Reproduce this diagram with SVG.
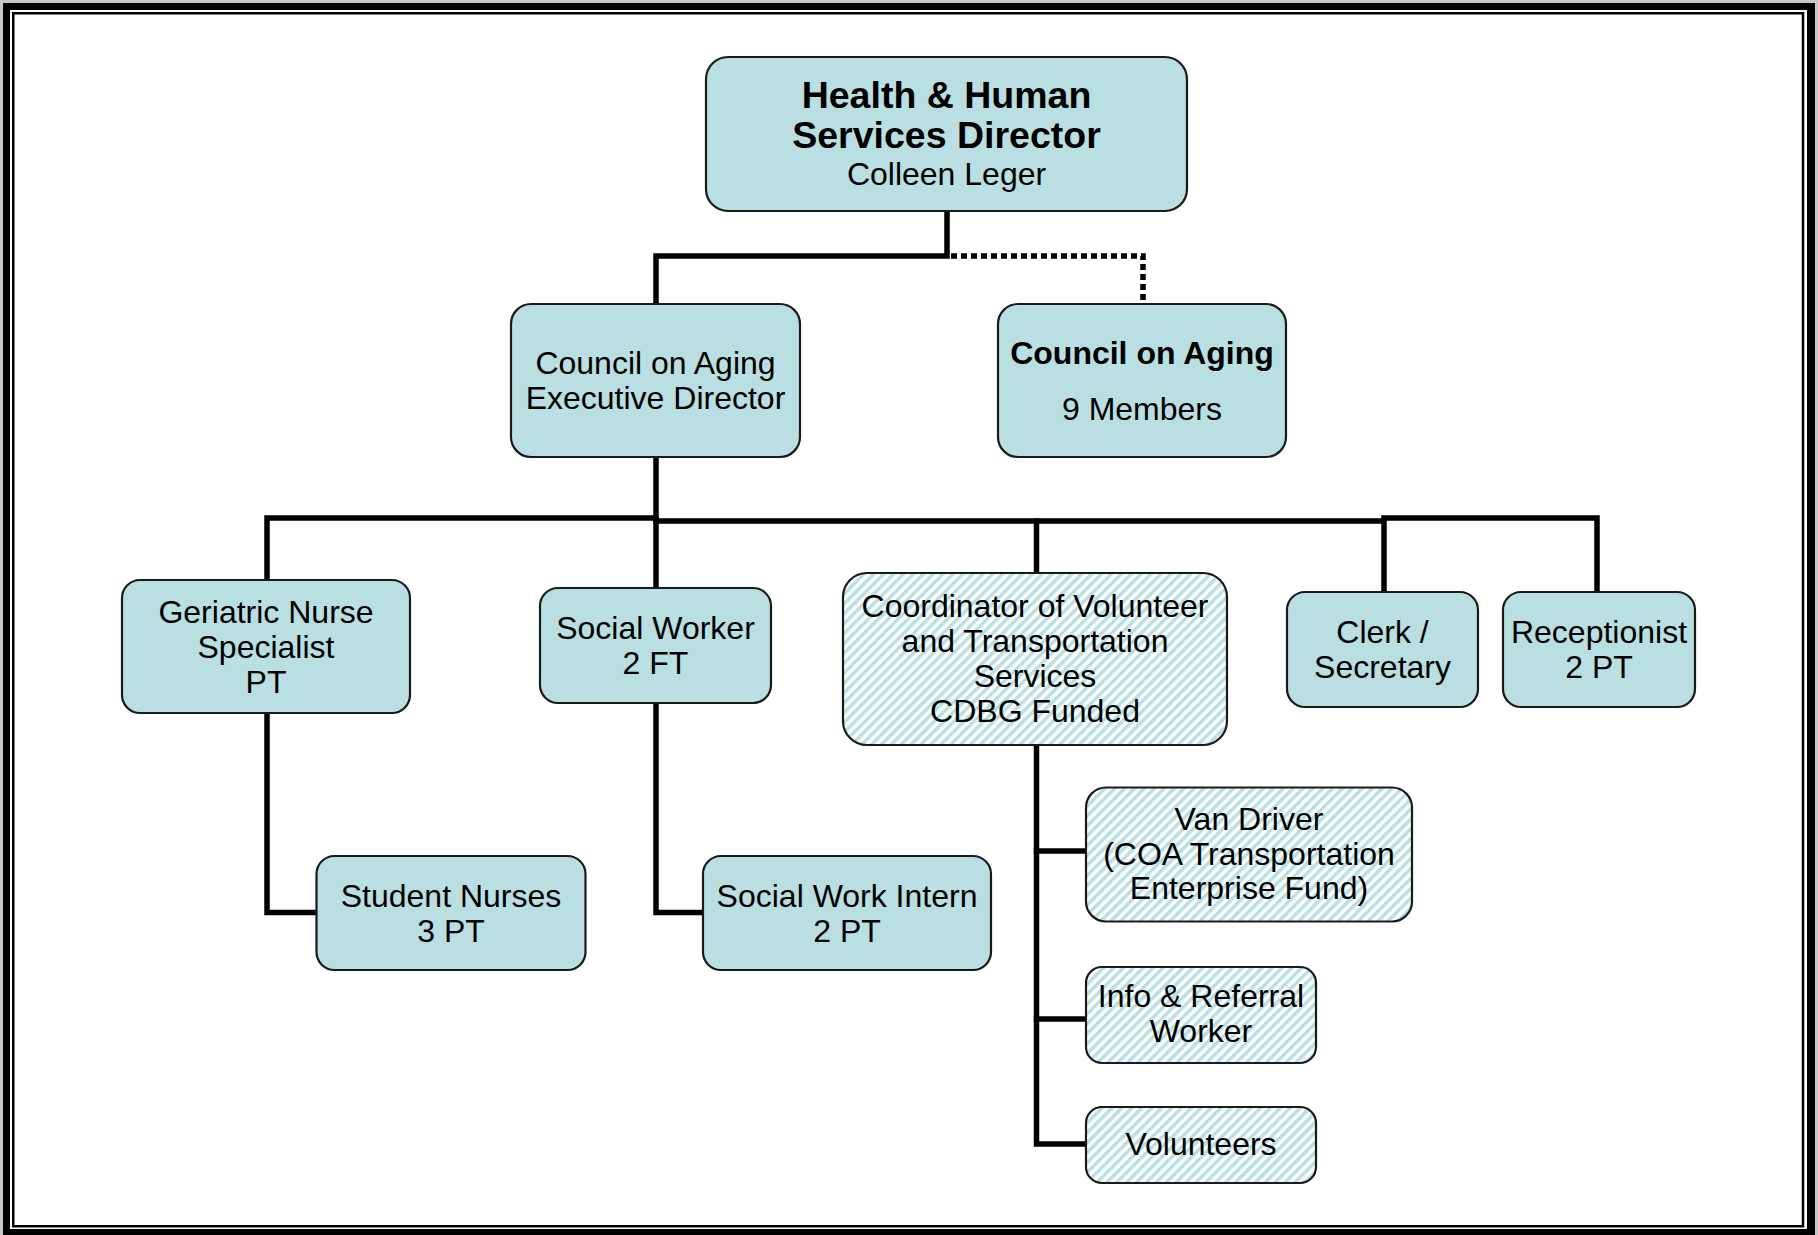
<svg xmlns="http://www.w3.org/2000/svg" width="1818" height="1235" viewBox="0 0 1818 1235">
<style>
.box{fill:#b9dfe2;stroke:#1a1a1a;stroke-width:2.2}
.hbox{fill:url(#hatch);stroke:#1a1a1a;stroke-width:2.2}
.t{font-family:"Liberation Sans",Arial,sans-serif;font-size:32px;fill:#000;text-anchor:middle}
.b{font-weight:bold}
.big{font-size:37.5px}
.ln{fill:none;stroke:#000;stroke-width:5.5;stroke-linecap:square;stroke-linejoin:miter}
.dot{fill:none;stroke:#000;stroke-width:5.5;stroke-dasharray:6 4}
</style>
<defs>
<pattern id="hatch" patternUnits="userSpaceOnUse" width="7" height="7" patternTransform="rotate(45)">
<rect x="0" y="0" width="7" height="7" fill="#ffffff"/>
<rect x="0" y="0" width="3.5" height="7" fill="#b9dfe2"/>
</pattern>
</defs>
<rect x="0" y="0" width="1818" height="1235" fill="#c6c6c6"/>
<rect x="3" y="3" width="1812" height="1240" fill="#000"/>
<rect x="10" y="10" width="1797" height="1219" fill="#fff"/>
<rect x="13.25" y="13.25" width="1789.75" height="1213" fill="#fff" stroke="#000" stroke-width="2.5"/>
<g id="connectors">
<path class="ln" d="M947 211 V256 H656 V304"/>
<path class="dot" d="M951 256 H1143 V304"/>
<path class="ln" d="M656 458 V588"/>
<path class="ln" d="M267 580 V518 H656"/>
<path class="ln" d="M656 521 H1384 V591"/>
<path class="ln" d="M1384 518 H1597 V591"/>
<path class="ln" d="M1036.5 521 V573"/>
<path class="ln" d="M267 713 V912.5 H316"/>
<path class="ln" d="M656 702 V912.5 H702"/>
<path class="ln" d="M1036.5 745 V1144 H1085"/>
<path class="ln" d="M1036.5 851 H1085"/>
<path class="ln" d="M1036.5 1019 H1085"/>
</g>
<g id="n-director">
<rect class="box" x="706" y="57" width="481" height="154" rx="22"/>
<text class="t b big" x="946.5" y="108">Health &amp; Human</text>
<text class="t b big" x="946.5" y="148">Services Director</text>
<text class="t" x="946.5" y="185">Colleen Leger</text>
</g>
<g id="n-exec">
<rect class="box" x="511" y="304" width="289" height="153" rx="20"/>
<text class="t" x="655.5" y="374">Council on Aging</text>
<text class="t" x="655.5" y="409">Executive Director</text>
</g>
<g id="n-council">
<rect class="box" x="998" y="304" width="288" height="153" rx="20"/>
<text class="t b" x="1142" y="364">Council on Aging</text>
<text class="t" x="1142" y="420">9 Members</text>
</g>
<g id="n-geriatric">
<rect class="box" x="122" y="580" width="288" height="133" rx="18"/>
<text class="t" x="266" y="623">Geriatric Nurse</text>
<text class="t" x="266" y="658">Specialist</text>
<text class="t" x="266" y="693">PT</text>
</g>
<g id="n-social">
<rect class="box" x="540" y="588" width="231" height="115" rx="18"/>
<text class="t" x="655.5" y="639">Social Worker</text>
<text class="t" x="655.5" y="674">2 FT</text>
</g>
<g id="n-coordinator">
<rect class="hbox" x="843" y="573" width="384" height="172" rx="24"/>
<text class="t" x="1035" y="617">Coordinator of Volunteer</text>
<text class="t" x="1035" y="652">and Transportation</text>
<text class="t" x="1035" y="687">Services</text>
<text class="t" x="1035" y="722">CDBG Funded</text>
</g>
<g id="n-clerk">
<rect class="box" x="1287" y="592" width="191" height="115" rx="18"/>
<text class="t" x="1382.5" y="643">Clerk /</text>
<text class="t" x="1382.5" y="678">Secretary</text>
</g>
<g id="n-receptionist">
<rect class="box" x="1503" y="592" width="192" height="115" rx="18"/>
<text class="t" x="1599" y="643">Receptionist</text>
<text class="t" x="1599" y="678">2 PT</text>
</g>
<g id="n-students">
<rect class="box" x="316.5" y="856" width="269" height="114" rx="18"/>
<text class="t" x="451" y="906.5">Student Nurses</text>
<text class="t" x="451" y="941.5">3 PT</text>
</g>
<g id="n-intern">
<rect class="box" x="703" y="856" width="288" height="114" rx="18"/>
<text class="t" x="847" y="906.5">Social Work Intern</text>
<text class="t" x="847" y="941.5">2 PT</text>
</g>
<g id="n-van">
<rect class="hbox" x="1086" y="787.5" width="326" height="134" rx="20"/>
<text class="t" x="1249" y="830">Van Driver</text>
<text class="t" x="1249" y="864.5">(COA Transportation</text>
<text class="t" x="1249" y="899">Enterprise Fund)</text>
</g>
<g id="n-info">
<rect class="hbox" x="1086" y="967" width="230" height="96" rx="16"/>
<text class="t" x="1201" y="1007">Info &amp; Referral</text>
<text class="t" x="1201" y="1042">Worker</text>
</g>
<g id="n-volunteers">
<rect class="hbox" x="1086" y="1107" width="230" height="76" rx="16"/>
<text class="t" x="1201" y="1155">Volunteers</text>
</g>
</svg>
